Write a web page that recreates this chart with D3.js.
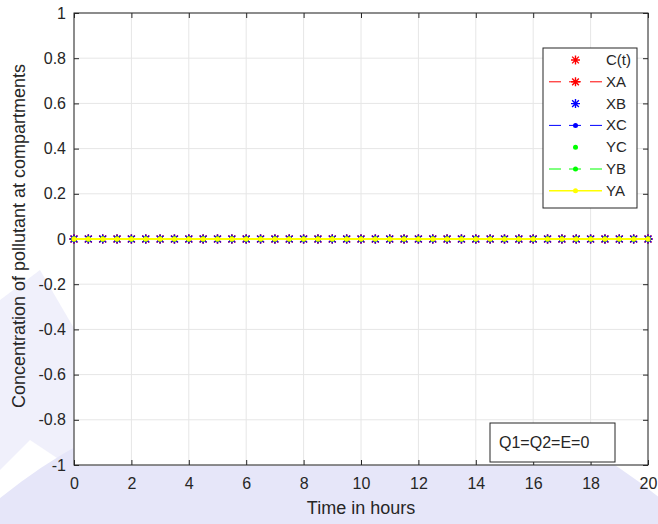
<!DOCTYPE html>
<html>
<head>
<meta charset="utf-8">
<script src="https://cdn.jsdelivr.net/npm/d3@7"></script>
<style>
  body { margin: 0; background: #fff; }
  text { font-family: "Liberation Sans", Arial, sans-serif; fill: #262626; }
</style>
</head>
<body>
<div id="chart"></div>
<script>
// time points (hours)
var hours = [0, 0.5, 1, 1.5, 2, 2.5, 3, 3.5, 4, 4.5, 5, 5.5, 6, 6.5, 7, 7.5, 8, 8.5, 9, 9.5,
  10, 10.5, 11, 11.5, 12, 12.5, 13, 13.5, 14, 14.5, 15, 15.5, 16, 16.5, 17, 17.5, 18, 18.5, 19, 19.5, 20];

// concentrations, all zero since Q1=Q2=E=0
var cT = [0,0,0,0,0,0,0,0,0,0,0,0,0,0,0,0,0,0,0,0,0,0,0,0,0,0,0,0,0,0,0,0,0,0,0,0,0,0,0,0,0];
var xA = [0,0,0,0,0,0,0,0,0,0,0,0,0,0,0,0,0,0,0,0,0,0,0,0,0,0,0,0,0,0,0,0,0,0,0,0,0,0,0,0,0];
var xB = [0,0,0,0,0,0,0,0,0,0,0,0,0,0,0,0,0,0,0,0,0,0,0,0,0,0,0,0,0,0,0,0,0,0,0,0,0,0,0,0,0];
var xC = [0,0,0,0,0,0,0,0,0,0,0,0,0,0,0,0,0,0,0,0,0,0,0,0,0,0,0,0,0,0,0,0,0,0,0,0,0,0,0,0,0];
var yC = [0,0,0,0,0,0,0,0,0,0,0,0,0,0,0,0,0,0,0,0,0,0,0,0,0,0,0,0,0,0,0,0,0,0,0,0,0,0,0,0,0];
var yB = [0,0,0,0,0,0,0,0,0,0,0,0,0,0,0,0,0,0,0,0,0,0,0,0,0,0,0,0,0,0,0,0,0,0,0,0,0,0,0,0,0];
var yA = [0,0,0,0,0,0,0,0,0,0,0,0,0,0,0,0,0,0,0,0,0,0,0,0,0,0,0,0,0,0,0,0,0,0,0,0,0,0,0,0,0];

var xTicks = [0, 2, 4, 6, 8, 10, 12, 14, 16, 18, 20];
var yTicks = [-1, -0.8, -0.6, -0.4, -0.2, 0, 0.2, 0.4, 0.6, 0.8, 1];

var series = [
  { name: "C(t)", values: cT, color: "#ff0000", line: null, marker: "star" },
  { name: "XA", values: xA, color: "#ff0000", line: "dash", marker: "star" },
  { name: "XB", values: xB, color: "#0000ff", line: null, marker: "star" },
  { name: "XC", values: xC, color: "#0000ff", line: "dash", marker: "dot" },
  { name: "YC", values: yC, color: "#00ff00", line: null, marker: "dot" },
  { name: "YB", values: yB, color: "#00ff00", line: "dash", marker: "dot" },
  { name: "YA", values: yA, color: "#ffff00", line: "solid", marker: "dot" }
];

var svgWidth = 658;
var svgHeight = 524;
var margin = { top: 13, right: 10, bottom: 59, left: 74 };
var width = svgWidth - margin.left - margin.right;
var height = svgHeight - margin.top - margin.bottom;

var svg = d3.select("#chart")
  .append("svg")
  .attr("width", svgWidth)
  .attr("height", svgHeight);

// faint watermark behind the figure margins
svg.append("circle")
  .attr("cx", 330)
  .attr("cy", 900)
  .attr("r", 520)
  .attr("fill", "#e6e6f9");
svg.append("path")
  .attr("d", "M0,300 L40,270 L75,330 L75,470 L30,440 L0,470 Z")
  .attr("fill", "#e6e6f9")
  .attr("opacity", 0.6);

var chartGroup = svg.append("g")
  .attr("transform", `translate(${margin.left}, ${margin.top})`);

chartGroup.append("rect")
  .attr("width", width)
  .attr("height", height)
  .attr("fill", "#fff");

var xScale = d3.scaleLinear().domain([0, 20]).range([0, width]);
var yScale = d3.scaleLinear().domain([-1, 1]).range([height, 0]);

// grid
chartGroup.append("g")
  .selectAll("line.gx")
  .data(xTicks)
  .enter()
  .append("line")
  .attr("x1", d => xScale(d)).attr("x2", d => xScale(d))
  .attr("y1", 0).attr("y2", height)
  .attr("stroke", "#e6e6e6");

chartGroup.append("g")
  .selectAll("line.gy")
  .data(yTicks)
  .enter()
  .append("line")
  .attr("y1", d => yScale(d)).attr("y2", d => yScale(d))
  .attr("x1", 0).attr("x2", width)
  .attr("stroke", "#e6e6e6");

// axes, ticks pointing inward
function styleAxis(g) {
  g.select(".domain").remove();
  g.selectAll(".tick line").attr("stroke", "#262626");
  g.selectAll(".tick text")
    .style("font-size", "16px")
    .style("font-family", "Liberation Sans, Arial, sans-serif")
    .attr("fill", "#262626");
}

// plain hyphen for negatives, like the original
var fmt = d => String(+d.toFixed(1));

chartGroup.append("g")
  .attr("transform", `translate(0, ${height})`)
  .call(d3.axisBottom(xScale).tickValues(xTicks).tickSizeInner(-5).tickSizeOuter(0).tickPadding(13).tickFormat(fmt))
  .call(styleAxis);

chartGroup.append("g")
  .call(d3.axisTop(xScale).tickValues(xTicks).tickSizeInner(-5).tickSizeOuter(0).tickFormat(""))
  .call(styleAxis);

chartGroup.append("g")
  .call(d3.axisLeft(yScale).tickValues(yTicks).tickSizeInner(-5).tickSizeOuter(0).tickPadding(8).tickFormat(fmt))
  .call(styleAxis);

chartGroup.append("g")
  .attr("transform", `translate(${width}, 0)`)
  .call(d3.axisRight(yScale).tickValues(yTicks).tickSizeInner(-5).tickSizeOuter(0).tickFormat(""))
  .call(styleAxis);

chartGroup.append("rect")
  .attr("width", width)
  .attr("height", height)
  .attr("fill", "none")
  .attr("stroke", "#262626");

// markers
function drawMarker(g, type, color, cx, cy) {
  if (type === "star") {
    var r = 4.5;
    var rd = r * 0.75;
    g.append("path")
      .attr("d", `M${cx - r},${cy}H${cx + r}M${cx},${cy - r}V${cy + r}` +
        `M${cx - rd},${cy - rd}L${cx + rd},${cy + rd}M${cx - rd},${cy + rd}L${cx + rd},${cy - rd}`)
      .attr("stroke", color)
      .attr("stroke-width", 1.4)
      .attr("fill", "none");
  } else {
    g.append("circle")
      .attr("cx", cx).attr("cy", cy)
      .attr("r", 2.5)
      .attr("fill", color);
  }
}

var line = d3.line()
  .x(d => xScale(d.t))
  .y(d => yScale(d.v));

series.forEach(function(s) {
  var pts = hours.map((t, i) => ({ t: t, v: s.values[i] }));
  var g = chartGroup.append("g");
  if (s.line) {
    g.append("path")
      .datum(pts)
      .attr("d", line)
      .attr("fill", "none")
      .attr("stroke", s.color)
      .attr("stroke-width", 2)
      .attr("stroke-dasharray", s.line === "dash" ? "6,4" : null);
  }
  pts.forEach(function(p) {
    drawMarker(g, s.marker, s.color, xScale(p.t), yScale(p.v));
  });
});

// legend
var legend = svg.append("g").attr("transform", "translate(543, 48)");
legend.append("rect")
  .attr("width", 94)
  .attr("height", 160)
  .attr("fill", "#fff")
  .attr("stroke", "#262626");

series.forEach(function(s, i) {
  var yy = 12 + i * 21.8;
  var row = legend.append("g");
  if (s.line === "dash") {
    row.append("line").attr("x1", 6).attr("x2", 18).attr("y1", yy).attr("y2", yy)
      .attr("stroke", s.color).attr("stroke-width", 1);
    row.append("line").attr("x1", 47).attr("x2", 59).attr("y1", yy).attr("y2", yy)
      .attr("stroke", s.color).attr("stroke-width", 1);
    row.append("line").attr("x1", 26).attr("x2", 38).attr("y1", yy).attr("y2", yy)
      .attr("stroke", s.color).attr("stroke-width", 1);
  } else if (s.line === "solid") {
    row.append("line").attr("x1", 6).attr("x2", 59).attr("y1", yy).attr("y2", yy)
      .attr("stroke", s.color).attr("stroke-width", 1.5);
  }
  drawMarker(row, s.marker, s.color, 32.5, yy);
  row.append("text")
    .attr("x", 63)
    .attr("y", yy + 5)
    .style("font-size", "15px")
    .text(s.name);
});

// annotation box
var note = svg.append("g").attr("transform", "translate(490, 423)");
note.append("rect")
  .attr("width", 125)
  .attr("height", 39)
  .attr("fill", "#fff")
  .attr("stroke", "#262626");
note.append("text")
  .attr("x", 9)
  .attr("y", 25)
  .style("font-size", "16px")
  .text("Q1=Q2=E=0");

// axis labels
svg.append("text")
  .attr("x", margin.left + width / 2)
  .attr("y", 514)
  .attr("text-anchor", "middle")
  .style("font-size", "18px")
  .text("Time in hours");

svg.append("text")
  .attr("transform", `translate(25, ${margin.top + height / 2 - 3}) rotate(-90)`)
  .attr("text-anchor", "middle")
  .style("font-size", "18px")
  .text("Concentration of pollutant at compartments");
</script>
</body>
</html>
